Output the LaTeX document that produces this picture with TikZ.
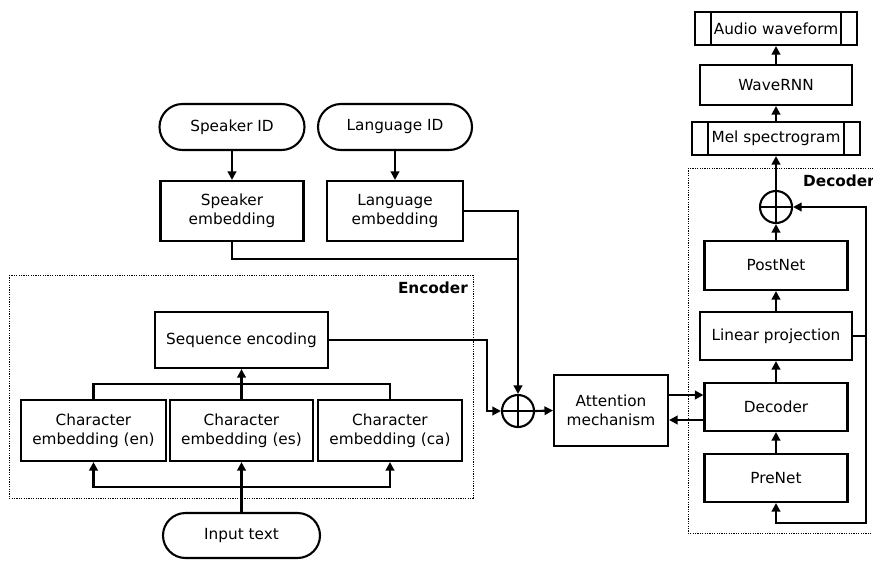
\documentclass[tikz,border=0pt]{standalone}
\usepackage{fontspec}
\setmainfont{DejaVu Sans}
\usetikzlibrary{arrows.meta,shapes.misc}

\begin{document}
\begin{tikzpicture}[x=1pt,y=-1pt,
  font=\fontsize{15.3}{19.3}\selectfont,
  every node/.style={inner sep=0pt},
  lw/.style={line width=2.1pt},
  blk/.style={draw, lw, rectangle, align=center},
  term/.style={draw, lw, rounded rectangle, align=center},
  io/.style={draw, lw, rectangle, align=center,
    path picture={\draw[lw]
      ([xshift=16pt]path picture bounding box.north west) -- ([xshift=16pt]path picture bounding box.south west)
      ([xshift=-16pt]path picture bounding box.north east) -- ([xshift=-16pt]path picture bounding box.south east);}},
  sum/.style={draw, lw, circle, minimum size=32pt,
    path picture={\draw[lw]
      (path picture bounding box.north) -- (path picture bounding box.south)
      (path picture bounding box.west) -- (path picture bounding box.east);}},
  tip/.tip={Triangle[length=8.5pt,width=8.5pt]},
  conn/.style={lw, -tip},
  wire/.style={lw},
  grp/.style={draw, line width=0.9pt, dash pattern=on 1.2pt off 1.2pt},
  grplabel/.style={font=\fontsize{15.3}{19.3}\selectfont\bfseries},
]
\fill[white] (0,0) rectangle (873,560);
\useasboundingbox (0,0) rectangle (873,560);

% group frames
\draw[grp] (9,275) rectangle (473,498);
\draw[grp] (688,168) rectangle (885,533);
\node[grplabel, anchor=east] (enclabel) at (468,288) {Encoder};
\node[grplabel, anchor=west] (declabel) at (803,181) {Decoder};

% speaker / language inputs
\node[term, minimum width=145pt, minimum height=46pt] (spkid) at (232,127) {Speaker ID};
\node[term, minimum width=154pt, minimum height=46pt] (langid) at (395,127) {Language ID};
\node[blk, minimum width=143pt, minimum height=60pt] (spkemb) at (232,211) {Speaker\\embedding};
\node[blk, minimum width=136pt, minimum height=60pt] (langemb) at (395,211) {Language\\embedding};

% encoder
\node[blk, minimum width=173pt, minimum height=56pt] (seq) at (241.5,340) {Sequence encoding};
\node[blk, minimum width=145pt, minimum height=61pt] (chEN) at (93.5,430.5) {Character\\embedding (en)};
\node[blk, minimum width=143pt, minimum height=61pt] (chES) at (241.5,430.5) {Character\\embedding (es)};
\node[blk, minimum width=144pt, minimum height=61pt] (chCA) at (390,430.5) {Character\\embedding (ca)};
\node[term, minimum width=157pt, minimum height=45pt] (input) at (241.5,535.5) {Input text};

% attention
\node[sum] (sumE) at (518,411) {};
\node[blk, minimum width=114pt, minimum height=71pt] (att) at (611,410.5) {Attention\\mechanism};

% decoder and vocoder
\node[blk, minimum width=143pt, minimum height=48pt] (prenet) at (776,478) {PreNet};
\node[blk, minimum width=143pt, minimum height=48pt] (dec) at (776,407) {Decoder};
\node[blk, minimum width=152pt, minimum height=48pt] (linproj) at (776,336) {Linear projection};
\node[blk, minimum width=143pt, minimum height=49pt] (postnet) at (776,265.5) {PostNet};
\node[sum] (sumD) at (776,207) {};
\node[io, minimum width=168pt, minimum height=33pt] (mel) at (776,138.5) {Mel spectrogram};
\node[blk, minimum width=152pt, minimum height=40pt] (wavernn) at (776,85) {WaveRNN};
\node[io, minimum width=162pt, minimum height=33pt] (wave) at (776,28.5) {Audio waveform};

% helper points
\coordinate (split) at (241.5,487);
\coordinate (merge) at (241.5,384);
\coordinate (join) at (518,259);
\coordinate (fbTop) at (866,207);
\coordinate (fbBot) at (866,523);

% encoder wiring
\draw[conn] (input.north) -- (chES.south);
\draw[conn] (split) -| (chEN.south);
\draw[conn] (split) -| (chCA.south);
\draw[wire] (chEN.north) |- (merge) -| (chCA.north);
\draw[conn] (chES.north) -- (seq.south);
\draw[conn] (seq.east) -- ++(158,0) |- (sumE.west);

% conditioning
\draw[conn] (spkid.south) -- (spkemb.north);
\draw[conn] (langid.south) -- (langemb.north);
\draw[wire] (spkemb.south) |- (join);
\draw[wire] (langemb.east) -| (join);
\draw[conn] (join) -- (sumE.north);

% attention loop
\draw[conn] (sumE.east) -- (att.west);
\draw[conn] ([yshift=15.5pt]att.east) -- ([yshift=15.5pt]att.east -| dec.west);
\draw[conn] ([yshift=-9.5pt]att.east -| dec.west) -- ([yshift=-9.5pt]att.east);

% decoder stack
\draw[conn] (prenet.north) -- (dec.south);
\draw[conn] (dec.north) -- (linproj.south);
\draw[conn] (linproj.north) -- (postnet.south);
\draw[conn] (postnet.north) -- (sumD.south);
\draw[conn] (sumD.north) -- (mel.south);
\draw[conn] (mel.north) -- (wavernn.south);
\draw[conn] (wavernn.north) -- (wave.south);

% feedback path
\draw[wire] (linproj.east) -- (linproj.east -| fbTop);
\draw[lw, tip-tip] (sumD.east) -- (fbTop) -- (fbBot) -| (prenet.south);
\end{tikzpicture}
\end{document}
